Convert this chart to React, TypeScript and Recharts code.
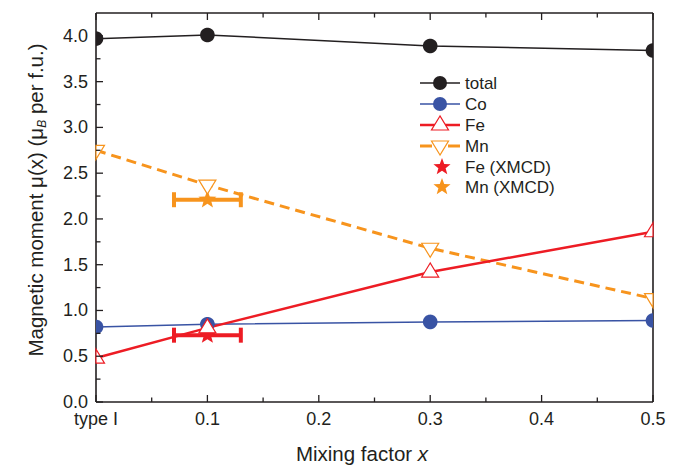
import { ComposedChart, Line, Scatter, ErrorBar, XAxis, YAxis } from 'recharts'

// mixing factor x (0 = "type I")
const mixX = [0, 0.1, 0.3, 0.5]
const totalMoment = [3.97, 4.01, 3.89, 3.84]
const coMoment = [0.82, 0.85, 0.875, 0.89]
const feMoment = [0.48, 0.81, 1.42, 1.86]
const mnMoment = [2.75, 2.37, 1.68, 1.13]

// XMCD points with horizontal error
const xmcdX = [0.1]
const feXmcd = [0.73]
const mnXmcd = [2.21]
const xmcdXErr = [0.03]

const xTicks = [0, 0.05, 0.1, 0.15, 0.2, 0.25, 0.3, 0.35, 0.4, 0.45, 0.5]
const yTicks = [0, 0.25, 0.5, 0.75, 1, 1.25, 1.5, 1.75, 2, 2.25, 2.5, 2.75, 3, 3.25, 3.5, 3.75, 4]

const W = 696
const H = 466
const PLOT_LEFT = 96
const PLOT_RIGHT = 653
const PLOT_TOP = 13
const PLOT_BOTTOM = 402

const C = {
  total: '#231f20',
  co: '#3953a4',
  fe: '#ed1c24',
  mn: '#f7941d',
  axis: '#231f20',
}
const FONT = '"Liberation Sans", Arial, sans-serif'

const rows = mixX.map((x, i) => ({
  x,
  total: totalMoment[i],
  co: coMoment[i],
  fe: feMoment[i],
  mn: mnMoment[i],
}))
const feXmcdRows = xmcdX.map((x, i) => ({ x, y: feXmcd[i], xErr: xmcdXErr[i] }))
const mnXmcdRows = xmcdX.map((x, i) => ({ x, y: mnXmcd[i], xErr: xmcdXErr[i] }))

const isMajorX = (v: number) => Math.abs(v * 10 - Math.round(v * 10)) < 1e-6
const isMajorY = (v: number) => Math.abs(v * 2 - Math.round(v * 2)) < 1e-6
const fmtX = (v: number) => (v === 0 ? 'type I' : v.toFixed(1))

type Pt = [number, number]

// cut a marker outline at the left / right frame (markers on the frame are half drawn in the original)
function clipAt(pts: Pt[], edge: number, keepRight: boolean): Pt[] {
  const inside = (p: Pt) => (keepRight ? p[0] >= edge : p[0] <= edge)
  const out: Pt[] = []
  for (let i = 0; i < pts.length; i++) {
    const a = pts[i]
    const b = pts[(i + 1) % pts.length]
    const ia = inside(a)
    const ib = inside(b)
    if (ia) out.push(a)
    if (ia !== ib) {
      const t = (edge - a[0]) / (b[0] - a[0])
      out.push([edge, a[1] + t * (b[1] - a[1])])
    }
  }
  return out
}
function toPoints(pts: Pt[]) {
  const c = clipAt(clipAt(pts, PLOT_LEFT, true), PLOT_RIGHT, false)
  return c.map((p) => `${p[0]},${p[1]}`).join(' ')
}

function circlePts(cx: number, cy: number, r: number): Pt[] {
  const pts: Pt[] = []
  for (let k = 0; k < 48; k++) {
    const a = (k * 2 * Math.PI) / 48
    pts.push([cx + r * Math.cos(a), cy + r * Math.sin(a)])
  }
  return pts
}
function upTri(cx: number, cy: number): Pt[] {
  return [[cx, cy - 9], [cx - 8.5, cy + 5], [cx + 8.5, cy + 5]]
}
function downTri(cx: number, cy: number): Pt[] {
  return [[cx, cy + 9], [cx - 8.5, cy - 5], [cx + 8.5, cy - 5]]
}
function starPts(cx: number, cy: number, ro: number, ri: number): Pt[] {
  const pts: Pt[] = []
  for (let k = 0; k < 10; k++) {
    const r = k % 2 === 0 ? ro : ri
    const a = -Math.PI / 2 + (k * Math.PI) / 5
    pts.push([cx + r * Math.cos(a), cy + r * Math.sin(a)])
  }
  return pts
}
const plain = (pts: Pt[]) => pts.map((p) => `${p[0]},${p[1]}`).join(' ')

function BottomTick(p: any) {
  const v = p.payload.value
  const major = isMajorX(v)
  return (
    <g>
      <line x1={p.x} x2={p.x} y1={PLOT_BOTTOM} y2={PLOT_BOTTOM - (major ? 7 : 4.5)} stroke={C.axis} strokeWidth={1.3} />
      {major && (
        <text x={p.x} y={419} textAnchor="middle" dominantBaseline="central" fontSize={18} fill={C.axis} fontFamily={FONT}>
          {fmtX(v)}
        </text>
      )}
    </g>
  )
}

function TopTick(p: any) {
  const major = isMajorX(p.payload.value)
  return <line x1={p.x} x2={p.x} y1={PLOT_TOP} y2={PLOT_TOP + (major ? 7 : 4.5)} stroke={C.axis} strokeWidth={1.3} />
}

function LeftTick(p: any) {
  const v = p.payload.value
  const major = isMajorY(v)
  return (
    <g>
      <line x1={PLOT_LEFT} x2={PLOT_LEFT + (major ? 7 : 4.5)} y1={p.y} y2={p.y} stroke={C.axis} strokeWidth={1.3} />
      {major && (
        <text x={88} y={p.y} textAnchor="end" dominantBaseline="central" fontSize={18} fill={C.axis} fontFamily={FONT}>
          {v.toFixed(1)}
        </text>
      )}
    </g>
  )
}

function RightTick(p: any) {
  const major = isMajorY(p.payload.value)
  return <line x1={PLOT_RIGHT} x2={PLOT_RIGHT - (major ? 7 : 4.5)} y1={p.y} y2={p.y} stroke={C.axis} strokeWidth={1.3} />
}

function XTitle() {
  return (
    <text x={362} y={453} textAnchor="middle" dominantBaseline="central" fontSize={20.5} fill={C.axis} fontFamily={FONT}>
      Mixing factor <tspan fontStyle="italic">x</tspan>
    </text>
  )
}

function YTitle() {
  return (
    <text
      transform="rotate(-90)"
      x={-200}
      y={35}
      textAnchor="middle"
      dominantBaseline="central"
      fontSize={20.5}
      fill={C.axis}
      fontFamily={FONT}
    >
      Magnetic moment μ(x) (μ
      <tspan fontSize={12} fontStyle="italic" baselineShift="sub">B</tspan>
      <tspan> per f.u.)</tspan>
    </text>
  )
}

function Legend() {
  const x0 = 420
  const x1 = 460
  const mx = 440
  const tx = 465
  const ys = [83, 104, 125, 146, 167, 187]
  const txt = (y: number, s: string) => (
    <text x={tx} y={y} dominantBaseline="central" fontSize={17} fill={C.axis} fontFamily={FONT}>
      {s}
    </text>
  )
  return (
    <svg width={W} height={H} style={{ position: 'absolute', left: 0, top: 0, pointerEvents: 'none' }}>
      <line x1={x0} x2={x1} y1={ys[0]} y2={ys[0]} stroke={C.total} strokeWidth={1.5} />
      <circle cx={mx} cy={ys[0]} r={7} fill={C.total} />
      {txt(ys[0], 'total')}
      <line x1={x0} x2={x1} y1={ys[1]} y2={ys[1]} stroke={C.co} strokeWidth={1.5} />
      <circle cx={mx} cy={ys[1]} r={7} fill={C.co} />
      {txt(ys[1], 'Co')}
      <line x1={x0} x2={x1} y1={ys[2]} y2={ys[2]} stroke={C.fe} strokeWidth={2.5} />
      <polygon points={plain(upTri(mx, ys[2]))} fill="#fff" stroke={C.fe} strokeWidth={1.2} />
      {txt(ys[2], 'Fe')}
      <line x1={x0} x2={x0 + 12} y1={ys[3]} y2={ys[3]} stroke={C.mn} strokeWidth={3} />
      <line x1={x1 - 12} x2={x1} y1={ys[3]} y2={ys[3]} stroke={C.mn} strokeWidth={3} />
      <polygon points={plain(downTri(mx, ys[3]))} fill="#fff" stroke={C.mn} strokeWidth={1.2} />
      {txt(ys[3], 'Mn')}
      <polygon points={plain(starPts(442, ys[4], 9, 3.8))} fill={C.fe} />
      {txt(ys[4], 'Fe (XMCD)')}
      <polygon points={plain(starPts(442, ys[5], 9, 3.8))} fill={C.mn} />
      {txt(ys[5], 'Mn (XMCD)')}
    </svg>
  )
}

const circleDot = (color: string) => (p: any) =>
  <polygon key={`c-${p.index}`} points={toPoints(circlePts(p.cx, p.cy, 7.3))} fill={color} />
const upDot = (p: any) =>
  <polygon key={`u-${p.index}`} points={toPoints(upTri(p.cx, p.cy))} fill="#fff" stroke={C.fe} strokeWidth={1.2} />
const downDot = (p: any) =>
  <polygon key={`d-${p.index}`} points={toPoints(downTri(p.cx, p.cy))} fill="#fff" stroke={C.mn} strokeWidth={1.2} />
const starShape = (color: string) => (p: any) =>
  <polygon points={plain(starPts(p.cx, p.cy, 9.5, 4))} fill={color} />

export default function App() {
  return (
    <div style={{ position: 'absolute', left: 0, top: 0, width: W, height: H, background: '#fff' }}>
      <ComposedChart width={W} height={H} data={rows} margin={{ top: 0, right: 0, bottom: 0, left: 0 }}>
        <XAxis
          dataKey="x"
          type="number"
          domain={[0, 0.5]}
          ticks={xTicks}
          interval={0}
          height={H - PLOT_BOTTOM}
          axisLine={{ stroke: C.axis, strokeWidth: 1.6 }}
          tickLine={false}
          tick={(p: any) => <BottomTick {...p} />}
          label={<XTitle />}
        />
        <XAxis
          xAxisId="top"
          orientation="top"
          dataKey="x"
          type="number"
          domain={[0, 0.5]}
          ticks={xTicks}
          interval={0}
          height={PLOT_TOP}
          axisLine={{ stroke: C.axis, strokeWidth: 1.6 }}
          tickLine={false}
          tick={(p: any) => <TopTick {...p} />}
        />
        <YAxis
          type="number"
          domain={[0, 4.25]}
          ticks={yTicks}
          interval={0}
          width={PLOT_LEFT}
          axisLine={{ stroke: C.axis, strokeWidth: 1.6 }}
          tickLine={false}
          tick={(p: any) => <LeftTick {...p} />}
          label={<YTitle />}
        />
        <YAxis
          yAxisId="right"
          orientation="right"
          type="number"
          domain={[0, 4.25]}
          ticks={yTicks}
          interval={0}
          width={W - PLOT_RIGHT}
          axisLine={{ stroke: C.axis, strokeWidth: 1.6 }}
          tickLine={false}
          tick={(p: any) => <RightTick {...p} />}
        />
        <Line dataKey="total" stroke={C.total} strokeWidth={1.5} dot={circleDot(C.total)} activeDot={false} isAnimationActive={false} />
        <Line dataKey="co" stroke={C.co} strokeWidth={1.5} dot={circleDot(C.co)} activeDot={false} isAnimationActive={false} />
        <Line dataKey="mn" stroke={C.mn} strokeWidth={3} strokeDasharray="10 6" dot={downDot} activeDot={false} isAnimationActive={false} />
        <Line dataKey="fe" stroke={C.fe} strokeWidth={2.5} dot={upDot} activeDot={false} isAnimationActive={false} />
        <Scatter data={feXmcdRows} dataKey="y" shape={starShape(C.fe)} isAnimationActive={false}>
          <ErrorBar dataKey="xErr" direction="x" width={7.5} strokeWidth={4} stroke={C.fe} isAnimationActive={false} />
        </Scatter>
        <Scatter data={mnXmcdRows} dataKey="y" shape={starShape(C.mn)} isAnimationActive={false}>
          <ErrorBar dataKey="xErr" direction="x" width={7.5} strokeWidth={4} stroke={C.mn} isAnimationActive={false} />
        </Scatter>
      </ComposedChart>
      <Legend />
    </div>
  )
}
